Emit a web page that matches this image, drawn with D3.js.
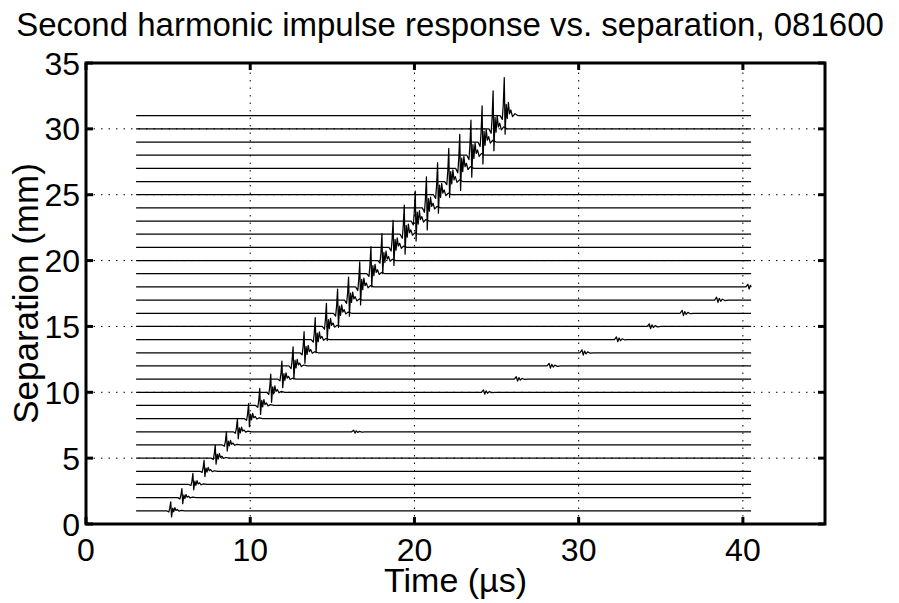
<!DOCTYPE html>
<head>
  <meta charset="utf-8">
  <script src="https://d3js.org/d3.v7.min.js"></script>
  <style>
body { margin: 0; background: #fff; }
text { font-family: "Liberation Sans", Arial, Helvetica, sans-serif; fill: #000; }
.trace { fill: none; stroke: #000; stroke-width: 1.25; stroke-linejoin: round; }
.grid line { stroke: #000; stroke-width: 1; stroke-dasharray: 1.5,6; }
  </style>
</head>

<body>
  <script>
    // separation of each recorded trace (mm)
    var separations = [1,2,3,4,5,6,7,8,9,10,11,12,13,14,15,16,17,18,19,20,21,22,23,24,25,26,27,28,29,30,31];
    // arrival time of the main pulse on each trace (us)
    var pulseTimes = [5.16,5.84,6.51,7.19,7.87,8.55,9.22,9.90,10.58,11.25,11.93,12.61,13.28,13.96,14.64,
                      15.32,15.99,16.67,17.35,18.02,18.70,19.38,20.05,20.73,21.41,22.09,22.76,23.44,24.12,24.79,25.47];
    // height of the positive peak above the baseline (mm units on the plot)
    var pulseUp = [0.68,0.68,0.84,0.84,0.99,0.99,0.99,1.14,1.29,1.37,1.37,1.45,1.60,1.67,1.75,
                   1.83,1.75,1.90,2.05,2.05,2.05,2.21,2.28,2.36,2.44,2.51,2.59,2.66,2.74,2.89,2.89];
    // depth of the negative peak below the baseline
    var pulseDown = [0.46,0.46,0.40,0.40,0.46,0.46,0.53,0.61,0.68,0.76,0.65,0.99,0.80,0.99,1.07,
                     1.07,1.22,1.37,1.00,1.00,1.37,1.52,1.52,1.67,1.40,1.20,1.67,1.67,1.67,1.67,1.40];
    // shape of one pulse: time offsets (us) and relative level (+ scaled by up, - by down)
    var shapeOffsets = [-0.25,-0.12,-0.06,0,0.05,0.12,0.18,0.25,0.32,0.40,0.50,0.65,0.85];
    var shapeLevels  = [0,-0.2,0.3,1,-1,0.3,-0.15,0.35,0.05,0.15,-0.05,0.05,0];

    // late small echoes
    var echoSep   = [7,10,11,12,13,14,15,16,17,18];
    var echoTimes = [16.3,24.2,26.2,28.2,30.2,32.3,34.3,36.3,38.4,40.3];
    var echoAmp   = [0.12,0.18,0.18,0.2,0.22,0.2,0.2,0.22,0.22,0.2];
    var echoOffsets = [-0.12,0,0.08,0.16,0.25,0.35,0.5,0.7];
    var echoLevels  = [0,1,-0.8,0.6,-0.4,0.3,-0.15,0];

    var traceStart = 3.05, traceEnd = 40.5;

    var xTicks = [0,10,20,30,40];
    var yTicks = [0,5,10,15,20,25,30,35];

    var W = 899, H = 603;
    var margin = {left: 86, right: 74, top: 63, bottom: 79};

    var svg = d3.select("body").append("svg")
      .attr("width", W)
      .attr("height", H);

    var x = d3.scaleLinear().domain([0,45]).range([margin.left, W - margin.right]);
    var y = d3.scaleLinear().domain([0,35]).range([H - margin.bottom, margin.top]);

    // dotted grid
    var grid = svg.append("g").attr("class", "grid");
    grid.selectAll(".vx").data(xTicks.filter(function(d){ return d > 0; }))
      .enter().append("line")
      .attr("x1", d => x(d)).attr("x2", d => x(d))
      .attr("y1", y(0)).attr("y2", y(35));
    grid.selectAll(".hy").data(yTicks.filter(function(d){ return d > 0 && d < 35; }))
      .enter().append("line")
      .attr("x1", x(0)).attr("x2", x(45))
      .attr("y1", d => y(d)).attr("y2", d => y(d));

    // build each trace from the baseline, the pulse and any echo
    function tracePoints(i) {
      var s = separations[i];
      var pts = [[traceStart, s]];
      shapeOffsets.forEach(function(o, k) {
        var lv = shapeLevels[k];
        var v = lv >= 0 ? lv * pulseUp[i] : lv * pulseDown[i];
        pts.push([pulseTimes[i] + o, s + v]);
      });
      echoSep.forEach(function(es, j) {
        if (es !== s) return;
        echoOffsets.forEach(function(o, k) {
          var t = echoTimes[j] + o;
          if (t <= traceEnd) pts.push([t, s + echoLevels[k] * echoAmp[j]]);
        });
      });
      pts.push([traceEnd, s]);
      pts.sort(function(a, b) { return a[0] - b[0]; });
      return pts;
    }

    var line = d3.line().x(d => x(d[0])).y(d => y(d[1]));

    svg.append("g").selectAll("path")
      .data(separations)
      .enter().append("path")
      .attr("class", "trace")
      .attr("d", function(d, i) { return line(tracePoints(i)); });

    // box and ticks (MATLAB style, ticks inside on all four sides)
    var axes = svg.append("g");
    var tickLen = 7;
    xTicks.forEach(function(t) {
      axes.append("line").attr("x1", x(t)).attr("x2", x(t)).attr("y1", y(0)).attr("y2", y(0) - tickLen)
        .attr("stroke", "#000").attr("stroke-width", 3);
      axes.append("line").attr("x1", x(t)).attr("x2", x(t)).attr("y1", y(35)).attr("y2", y(35) + tickLen)
        .attr("stroke", "#000").attr("stroke-width", 3);
    });
    yTicks.forEach(function(t) {
      axes.append("line").attr("x1", x(0)).attr("x2", x(0) + tickLen).attr("y1", y(t)).attr("y2", y(t))
        .attr("stroke", "#000").attr("stroke-width", 3);
      axes.append("line").attr("x1", x(45)).attr("x2", x(45) - tickLen).attr("y1", y(t)).attr("y2", y(t))
        .attr("stroke", "#000").attr("stroke-width", 3);
    });
    axes.append("rect")
      .attr("x", x(0)).attr("y", y(35))
      .attr("width", x(45) - x(0)).attr("height", y(0) - y(35))
      .attr("fill", "none").attr("stroke", "#000").attr("stroke-width", 3);

    // tick labels
    svg.append("g").selectAll("text")
      .data(xTicks).enter().append("text")
      .attr("x", d => x(d)).attr("y", 561)
      .attr("text-anchor", "middle")
      .style("font-size", "32px")
      .text(d => d);
    svg.append("g").selectAll("text")
      .data(yTicks).enter().append("text")
      .attr("x", x(0) - 6).attr("y", d => y(d))
      .attr("dy", "0.36em")
      .attr("text-anchor", "end")
      .style("font-size", "32px")
      .text(d => d);

    // labels
    svg.append("text")
      .attr("x", 450).attr("y", 36)
      .attr("text-anchor", "middle")
      .style("font-size", "33px")
      .text("Second harmonic impulse response vs. separation, 081600");
    svg.append("text")
      .attr("x", (x(0) + x(45)) / 2).attr("y", 592)
      .attr("text-anchor", "middle")
      .style("font-size", "34px")
      .text("Time (\u00B5s)");
    svg.append("text")
      .attr("transform", "translate(38," + ((y(0) + y(35)) / 2) + ") rotate(-90)")
      .attr("text-anchor", "middle")
      .style("font-size", "35px")
      .text("Separation (mm)");
  </script>
</body>
